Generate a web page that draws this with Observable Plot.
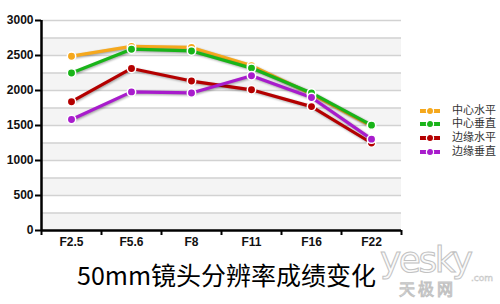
<!DOCTYPE html>
<html>
<head>
<meta charset="utf-8">
<script src="https://cdn.jsdelivr.net/npm/d3@7"></script>
<script src="https://cdn.jsdelivr.net/npm/@observablehq/plot@0.6"></script>
<style>
  html, body { margin: 0; padding: 0; background: #fff; }
  #wrap { position: relative; width: 500px; height: 304px; overflow: hidden; background: #fff; }
  #chart { position: absolute; left: 0; top: 0; }
  #chart g[aria-label="line"] { filter: drop-shadow(1px 1.5px 1px rgba(0,0,0,0.35)); }
  #legend { position: absolute; left: 420px; top: 104px; font-family: "DejaVu Sans", "Noto Sans CJK SC", sans-serif; font-size: 11px; color: #333; }
  .row { display: flex; align-items: center; height: 13.6px; }
  .row span { line-height: 12px; }
  .row svg { margin-right: 12px; }
  #title { position: absolute; left: 77px; top: 256px; white-space: nowrap; font-family: "Noto Sans CJK SC", sans-serif; font-size: 25px; color: #000; line-height: 36px; }
  .wm { position: absolute; color: #fafafa; -webkit-text-stroke: 1px #c2c2c2; white-space: nowrap; }
  #wm1 { left: 380px; top: 246.5px; font-family: "DejaVu Sans", sans-serif; font-size: 36px; letter-spacing: -2.5px; line-height: 26px; }
  #wm2 { left: 471px; top: 274px; font-family: "DejaVu Sans", sans-serif; font-size: 9px; line-height: 8px; -webkit-text-stroke: 0.5px #c2c2c2; }
  #wm3 { left: 399px; top: 283px; font-family: "DejaVu Sans", "Noto Sans CJK SC", sans-serif; font-size: 16px; letter-spacing: 3px; line-height: 14px; }
</style>
</head>
<body>
<div id="wrap">
  <div id="chart"></div>
  <div id="legend"></div>
  <div id="title"></div>
  <div class="wm" id="wm1">yesky</div>
  <div class="wm" id="wm2">.com</div>
  <div class="wm" id="wm3">天极网</div>
</div>
<script>
const categories = ["F2.5", "F5.6", "F8", "F11", "F16", "F22"];
const seriesNames = ["中心水平", "中心垂直", "边缘水平", "边缘垂直"];
const seriesColors = ["#f5a81d", "#19b419", "#b40000", "#a81ccc"];
const centerH = [2490, 2630, 2615, 2355, 1950, 1490];
const centerV = [2250, 2590, 2565, 2320, 1965, 1505];
const edgeH = [1840, 2315, 2135, 2010, 1770, 1250];
const edgeV = [1585, 1980, 1965, 2210, 1900, 1305];
const yTicks = [0, 500, 1000, 1500, 2000, 2500, 3000];
const gridValues = [250, 500, 750, 1000, 1250, 1500, 1750, 2000, 2250, 2500, 2750, 3000];
const grayBandLows = [0, 500, 1000, 1500, 2000, 2500];
const bandStep = 250;
const titleText = "50mm镜头分辨率成绩变化";

const seriesValues = [centerH, centerV, edgeH, edgeV];
const data = [];
seriesValues.forEach((vals, s) => {
  vals.forEach((v, i) => data.push({series: seriesNames[s], idx: i, value: v}));
});
const centers = categories.map((c, i) => i);
const boundaries = categories.map((c, i) => i - 0.5).concat([categories.length - 0.5]);

const marks = [
  Plot.rect(grayBandLows, {y1: d => d, y2: d => d + bandStep, fill: "#f4f4f4"}),
  Plot.ruleY(gridValues, {stroke: "#d2d2d2", strokeWidth: 1.5}),
  Plot.axisY({ticks: yTicks, tickSize: 6, tickPadding: 2, tickFormat: d => String(d), label: null, fontWeight: "bold", fontSize: 12, fill: "#111", stroke: "#000", strokeWidth: 2}),
  Plot.axisX({ticks: boundaries, tickSize: 5, tickFormat: () => "", label: null, stroke: "#000", strokeWidth: 2}),
  Plot.axisX({ticks: centers, tickSize: 0, tickPadding: 7, tickFormat: i => categories[i], label: null, fontWeight: "bold", fontSize: 12, fill: "#111"}),
];
seriesNames.forEach((name, s) => {
  marks.push(Plot.line(data.filter(d => d.series === name), {x: "idx", y: "value", stroke: seriesColors[s], strokeWidth: 3.2}));
});
seriesNames.forEach((name, s) => {
  marks.push(Plot.dot(data.filter(d => d.series === name), {x: "idx", y: "value", r: 4.2, fill: seriesColors[s], stroke: "#fff", strokeWidth: 1.5}));
});
marks.push(Plot.ruleX([-0.5], {stroke: "#000", strokeWidth: 2.5}));
marks.push(Plot.ruleY([0], {stroke: "#000", strokeWidth: 2.5}));

const chart = Plot.plot({
  width: 500,
  height: 250,
  marginLeft: 41,
  marginRight: 99,
  marginTop: 20,
  marginBottom: 20,
  x: {domain: [-0.5, categories.length - 0.5], label: null},
  y: {domain: [0, 3000], label: null},
  style: {fontFamily: "'Liberation Sans', Arial, sans-serif", fontSize: "12px", background: "transparent"},
  marks
});
document.getElementById("chart").appendChild(chart);

const legend = document.getElementById("legend");
seriesNames.forEach((name, s) => {
  const row = document.createElement("div");
  row.className = "row";
  row.innerHTML = `<svg width="20" height="10"><line x1="0" x2="20" y1="5" y2="5" stroke="${seriesColors[s]}" stroke-width="4"/><circle cx="10" cy="5" r="3.6" fill="${seriesColors[s]}" stroke="#fff" stroke-width="1.2"/></svg><span>${name}</span>`;
  legend.appendChild(row);
});
document.getElementById("title").textContent = titleText;
</script>
</body>
</html>
